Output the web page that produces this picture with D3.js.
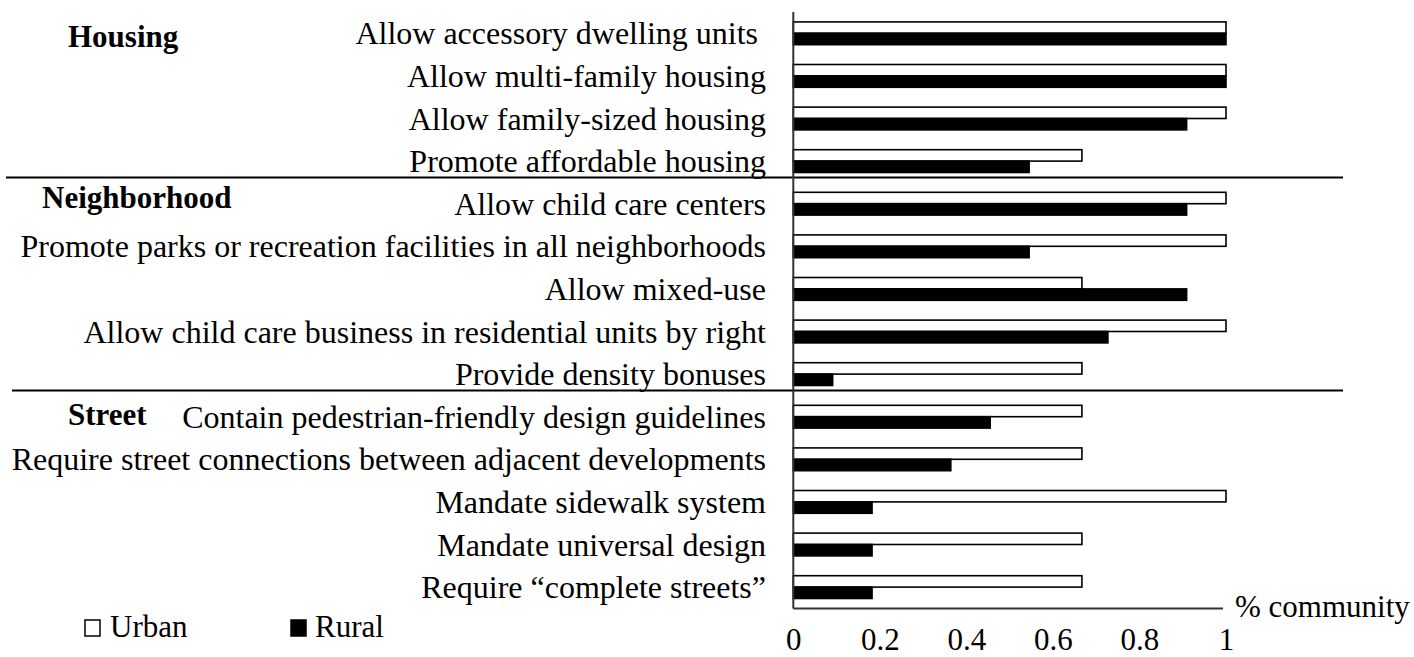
<!DOCTYPE html>
<html lang="en">
<head>
<meta charset="UTF-8">
<title>Urban vs Rural policies</title>
<script src="https://d3js.org/d3.v7.min.js"></script>
<style>
    body { margin: 0; background: #fff; }
    text { font-family: "Liberation Serif", "Times New Roman", serif; fill: #000; }
    .cat { font-size: 32px; white-space: pre; }
    .group { font-size: 31px; font-weight: bold; }
    .tick text { font-size: 31px; }
    .legend text, .unit { font-size: 31px; }
</style>
</head>
<body>
<svg id="chart"></svg>
<script>
    const width = 1414;
    const height = 657;

    // data
    const categories = [
        "Allow accessory dwelling units ",
        "Allow multi-family housing",
        "Allow family-sized housing",
        "Promote affordable housing",
        "Allow child care centers",
        "Promote parks or recreation facilities in all neighborhoods",
        "Allow mixed-use",
        "Allow child care business in residential units by right",
        "Provide density bonuses",
        "Contain pedestrian-friendly design guidelines",
        "Require street connections between adjacent developments",
        "Mandate sidewalk system",
        "Mandate universal design",
        "Require \u201ccomplete streets\u201d"
    ];
    const urban = [1, 1, 1, 0.667, 1, 1, 0.667, 1, 0.667, 0.667, 0.667, 1, 0.667, 0.667];
    const rural = [1, 1, 0.909, 0.545, 0.909, 0.545, 0.909, 0.727, 0.091, 0.455, 0.364, 0.182, 0.182, 0.182];
    const series = ["Urban", "Rural"];
    const groups = ["Housing", "Neighborhood", "Street"];
    const groupStart = [0, 4, 9]; // index of first category in each group
    const ticks = [0, 0.2, 0.4, 0.6, 0.8, 1];

    const svg = d3.select('#chart')
        .attr('width', width)
        .attr('height', height);

    const x = d3.scaleLinear().domain([0, 1]).range([793.3, 1226]);
    const y = d3.scaleBand().domain(categories).range([12, 608.4]).padding(0);
    const yInner = d3.scaleBand().domain(series).range([0, y.bandwidth()])
        .paddingInner(0).paddingOuter(0.87);

    const rows = categories.map((c, i) => ({ cat: c, Urban: urban[i], Rural: rural[i] }));

    // bars
    const row = svg.append('g').selectAll('g')
        .data(rows)
        .join('g')
        .attr('transform', d => `translate(0,${y(d.cat)})`);

    row.selectAll('rect')
        .data(d => series.map(s => ({ s, v: d[s] })))
        .join('rect')
        .attr('x', x(0))
        .attr('y', d => yInner(d.s))
        .attr('width', d => x(d.v) - x(0))
        .attr('height', yInner.bandwidth())
        .attr('fill', d => d.s === "Urban" ? '#fff' : '#000')
        .attr('stroke', '#000')
        .attr('stroke-width', 1.6);

    // category labels
    svg.append('g').selectAll('text')
        .data(categories)
        .join('text')
        .attr('class', 'cat')
        .attr('x', 766)
        .attr('y', d => y(d) + y.bandwidth() / 2 + 11)
        .attr('text-anchor', 'end')
        .text(d => d);

    // group separators
    svg.append('g').selectAll('line')
        .data(groupStart.slice(1))
        .join('line')
        .attr('x1', (d, i) => i === 0 ? 6 : 12)
        .attr('x2', 1343)
        .attr('y1', d => y(categories[d]) - 5)
        .attr('y2', d => y(categories[d]) - 5)
        .attr('stroke', '#000')
        .attr('stroke-width', 2);

    // group titles
    const groupPos = [[68, 14], [42, 4.5], [68, 8.5]];
    svg.append('g').selectAll('text')
        .data(groups)
        .join('text')
        .attr('class', 'group')
        .attr('x', (d, i) => groupPos[i][0])
        .attr('y', (d, i) => y(categories[groupStart[i]]) + y.bandwidth() / 2 + groupPos[i][1])
        .text(d => d);

    // axes lines
    svg.append('line')
        .attr('x1', x(0)).attr('x2', x(0))
        .attr('y1', 12).attr('y2', 608.4)
        .attr('stroke', '#333').attr('stroke-width', 2);
    svg.append('line')
        .attr('x1', x(0)).attr('x2', x(1) - 3)
        .attr('y1', 608.4).attr('y2', 608.4)
        .attr('stroke', '#333').attr('stroke-width', 2);

    const xAxis = svg.append('g')
        .attr('transform', 'translate(0,650)')
        .call(d3.axisBottom(x).tickValues(ticks).tickSize(0).tickPadding(0)
            .tickFormat(d3.format('~g')));
    xAxis.select('.domain').remove();
    xAxis.selectAll('.tick text').attr('dy', null).attr('y', 0)
        .style('font-family', '"Liberation Serif", "Times New Roman", serif');

    svg.append('text')
        .attr('class', 'unit')
        .attr('x', 1235)
        .attr('y', 617)
        .text('% community');

    // legend
    const legendX = [85, 291];
    const legend = svg.append('g').attr('class', 'legend').selectAll('g')
        .data(series)
        .join('g')
        .attr('transform', (d, i) => `translate(${legendX[i]},620)`);
    legend.append('rect')
        .attr('width', 15).attr('height', 16)
        .attr('fill', d => d === "Urban" ? '#fff' : '#000')
        .attr('stroke', '#000').attr('stroke-width', 1.5);
    legend.append('text')
        .attr('x', (d, i) => i === 0 ? 25 : 24)
        .attr('y', 17)
        .text(d => d);
</script>
</body>
</html>
